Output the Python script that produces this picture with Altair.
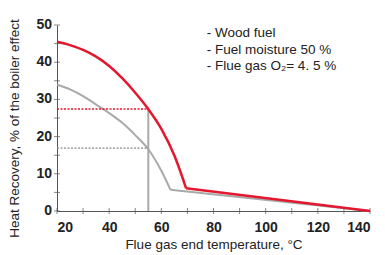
import altair as alt
import pandas as pd

red_x = [20, 25, 30, 35, 40, 45, 50, 55, 60, 65, 68, 69.5, 140]
red_y = [45.5, 44.6, 43.3, 41.5, 39.0, 35.7, 31.8, 27.4, 22.1, 14.9, 9.2, 6.1, 0]
gray_x = [20, 25, 30, 35, 40, 45, 50, 55, 60, 63.5, 140]
gray_y = [34, 32.7, 30.9, 28.6, 26.3, 23.7, 20.4, 16.6, 10.8, 5.7, 0]

marker_x = 55
red_level = 27.4
gray_level = 16.9

notes = ["- Wood fuel", "- Fuel moisture 50 %", "- Flue gas O\u2082= 4. 5 %"]
note_x = [77.4, 77.4, 77.4]
note_y = [47.8, 43.4, 39.1]

x_labels = [20, 40, 60, 80, 100, 120, 140]
y_labels = [0, 10, 20, 30, 40, 50]
x_ticks = list(range(20, 141, 10))
y_ticks = list(range(0, 51, 5))

FONT = "Liberation Sans"
RED = "#e3172d"
GRAY = "#a9a9a9"
AXC = "#555"

red_df = pd.DataFrame({"x": red_x, "y": red_y})
gray_df = pd.DataFrame({"x": gray_x, "y": gray_y})

xs = alt.Scale(domain=[20, 140], nice=False)
ys = alt.Scale(domain=[0, 50], nice=False)

xaxis = alt.Axis(values=x_labels, title="Flue gas end temperature, °C", grid=False,
                 labelOverlap=False, ticks=False)
yaxis = alt.Axis(values=y_labels, title="Heat Recovery, % of the boiler effect", grid=False,
                 labels=False, ticks=False, titleX=-43, titleY=103, titleAngle=-90,
                 titleAlign="center", titleBaseline="middle")


def series(df, color, width, first):
    curve = df.iloc[:-1]
    tail = df.iloc[-2:]
    if first:
        enc_x = alt.X("x:Q", scale=xs, axis=xaxis)
        enc_y = alt.Y("y:Q", scale=ys, axis=yaxis)
    else:
        enc_x = alt.X("x:Q", scale=xs)
        enc_y = alt.Y("y:Q", scale=ys)
    c = alt.Chart(curve).mark_line(color=color, strokeWidth=width, interpolate="monotone",
                                   strokeJoin="miter").encode(x=enc_x, y=enc_y)
    t = alt.Chart(tail).mark_line(color=color, strokeWidth=width, strokeJoin="miter").encode(
        x=alt.X("x:Q", scale=xs), y=alt.Y("y:Q", scale=ys))
    return c, t


g1, g2 = series(gray_df, GRAY, 2, True)
r1, r2 = series(red_df, RED, 2.5, False)

guides = pd.DataFrame({
    "x": [20, 20, marker_x],
    "x2": [marker_x, marker_x, marker_x],
    "y": [red_level, gray_level, 0],
    "y2": [red_level, gray_level, red_level],
    "kind": ["red", "gray", "vert"],
})
hred = alt.Chart(guides[guides.kind == "red"]).mark_rule(color=RED, strokeWidth=1.5, strokeDash=[2, 1.5]).encode(
    x=alt.X("x:Q", scale=xs), x2="x2:Q", y=alt.Y("y:Q", scale=ys))
hgray = alt.Chart(guides[guides.kind == "gray"]).mark_rule(color="#8a8a8a", strokeWidth=1.3, strokeDash=[2, 1.5]).encode(
    x=alt.X("x:Q", scale=xs), x2="x2:Q", y=alt.Y("y:Q", scale=ys))
vert = alt.Chart(guides[guides.kind == "vert"]).mark_rule(color=GRAY, strokeWidth=2).encode(
    x=alt.X("x:Q", scale=xs), y=alt.Y("y:Q", scale=ys), y2="y2:Q")

xt = alt.Chart(pd.DataFrame({"v": x_ticks})).mark_tick(orient="vertical", size=6, thickness=1, color=AXC).encode(
    x=alt.X("v:Q", scale=xs), y=alt.value(186))
yt = alt.Chart(pd.DataFrame({"v": y_ticks})).mark_tick(orient="horizontal", size=6, thickness=1, color=AXC).encode(
    y=alt.Y("v:Q", scale=ys), x=alt.value(0))

ylab = alt.Chart(pd.DataFrame({"v": y_labels})).mark_text(
    align="right", baseline="middle", font=FONT, fontSize=14, fontWeight="bold", color="#222", dx=-5).encode(
    y=alt.Y("v:Q", scale=ys), x=alt.value(0), text=alt.Text("v:Q", format="d"))

notes_df = pd.DataFrame({"t": notes, "x": note_x, "y": note_y})
text = alt.Chart(notes_df).mark_text(align="left", baseline="middle", font=FONT, fontSize=13.5, color="#222").encode(
    x=alt.X("x:Q", scale=xs), y=alt.Y("y:Q", scale=ys), text="t:N")

chart = alt.layer(g1, vert, hgray, hred, g2, r1, r2, xt, yt, ylab, text).properties(
    width=313, height=186,
    autosize=alt.AutoSizeParams(type="none"),
    padding={"left": 49, "top": 17, "right": 7, "bottom": 44},
    background="white",
).configure_view(stroke=None, clip=False).configure_axis(
    domainColor=AXC, domainWidth=1,
    labelFont=FONT, labelFontSize=14, labelColor="#222", labelFontWeight="bold",
    labelOverlap=False, labelBound=False,
    titleFont=FONT, titleFontSize=13.5, titleColor="#222", titleFontWeight="normal",
).configure_axisX(labelPadding=9, titlePadding=3)

chart.save("out.html", embed_options={"renderer": "svg", "actions": False})
